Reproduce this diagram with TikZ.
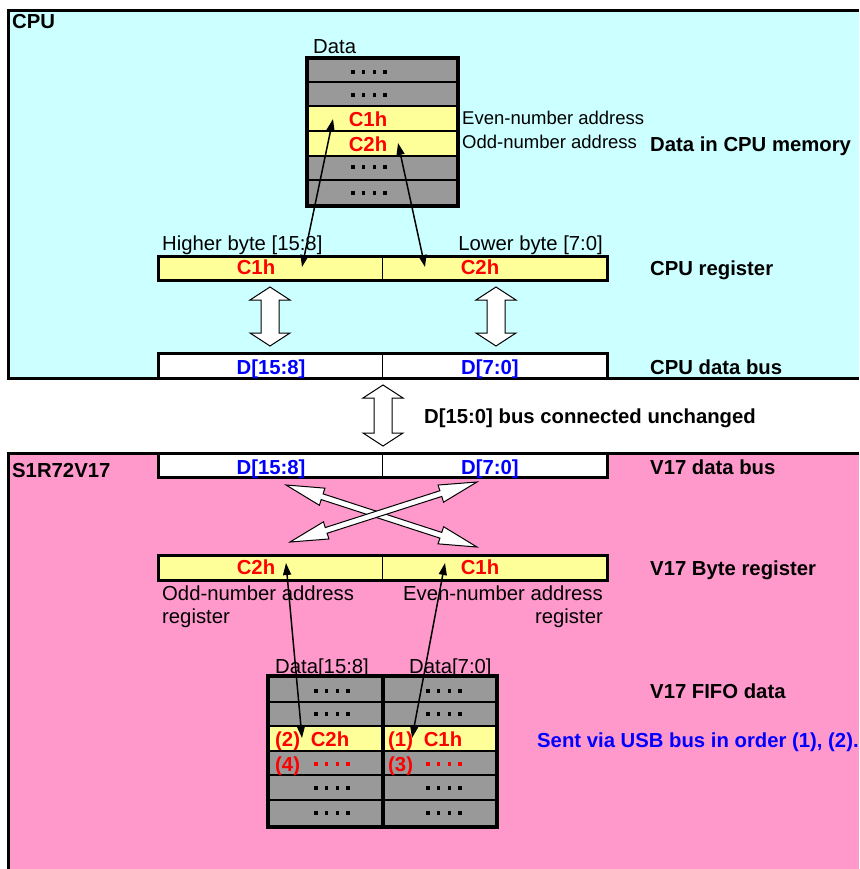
\documentclass[tikz,border=0pt]{standalone}
\usepackage{fontspec}
\setmainfont{Liberation Sans}
\usetikzlibrary{arrows.meta}

\tikzstyle{plain-text}=[inner sep=0pt, font=\fontsize{20.3}{24}\selectfont]
\tikzstyle{small-text}=[inner sep=0pt, font=\fontsize{18.5}{22}\selectfont]
\tikzstyle{bold-text}=[inner sep=0pt, font=\fontsize{20.3}{24}\selectfont\bfseries]
\tikzstyle{red-text}=[bold-text, text=DataRed]
\tikzstyle{blue-text}=[bold-text, text=BusBlue]
\tikzstyle{pointer}=[line width=1.5pt, <->, >={Triangle[length=12pt,width=8pt]}]
\tikzstyle{hollow-arrow}=[draw=black, fill=white, line width=1pt, line join=miter]
\definecolor{CpuCyan}{HTML}{CCFFFF}
\definecolor{ChipPink}{HTML}{FF99CC}
\definecolor{CellGray}{HTML}{999999}
\definecolor{CellYellow}{HTML}{FFFF99}
\definecolor{DataRed}{HTML}{FF0000}
\definecolor{BusBlue}{HTML}{0000FF}

% four dots standing for an unknown byte: centre x, centre y, colour
\newcommand{\dotrun}[3]{%
  \foreach \k in {-1.5,-0.5,0.5,1.5}
    {\fill[#3] ({#1+10.7*\k-1.8},{#2-1.8}) rectangle +(3.6,3.6);}}

% centre, angle, half length, shaft half width, head half width, head length
\newcommand{\hollowarrow}[6]{%
  \draw[hollow-arrow, shift={#1}, rotate=#2] (-#3,0) -- ({-#3+#6},#5) -- ({-#3+#6},#4)
    -- ({#3-#6},#4) -- ({#3-#6},#5) -- (#3,0) -- ({#3-#6},-#5) -- ({#3-#6},-#4)
    -- ({-#3+#6},-#4) -- ({-#3+#6},-#5) -- cycle;}

\begin{document}
\begin{tikzpicture}[x=1pt,y=-1pt]
      \useasboundingbox (0,0) rectangle (859,869);

      % the two areas
      \fill[CpuCyan] (9,11) rectangle (859,378);
      \fill[ChipPink] (9,453) rectangle (859,869);
      \draw[line width=3pt] (859,10.5) -- (8.5,10.5) -- (8.5,378) -- (859,378);
      \draw[line width=3pt] (859,453) -- (8.5,453) -- (8.5,869);
      \node (title-cpu) at (12,29) [bold-text, anchor=base west] {CPU};
      \node (title-chip) at (12,477) [bold-text, anchor=base west] {S1R72V17};

      % data in CPU memory
      \foreach \row/\col in {0/CellGray,1/CellGray,2/CellYellow,3/CellYellow,4/CellGray,5/CellGray}
        {\fill[\col] (307,{58+24.7*\row}) rectangle (458,{58+24.7*(\row+1)});}
      \foreach \y in {82,106,131,156,180}
        {\draw[line width=2.5pt] (307,\y) -- (458,\y);}
      \draw[line width=3.5pt] (307,58) rectangle (458,206);
      \foreach \y in {72,95,167,193}
        {\dotrun{369}{\y}{black}}
      \node (mem-title) at (313,54) [plain-text, anchor=base west] {Data};
      \node (mem-c1) at (368,127) [red-text, anchor=base] {C1h};
      \node (mem-c2) at (368,152) [red-text, anchor=base] {C2h};
      \node (mem-even) at (462,125) [small-text, anchor=base west] {Even-number address};
      \node (mem-odd) at (462,149) [small-text, anchor=base west] {Odd-number address};

      % the four bars
      \foreach \top/\bot/\col in {256/280/CellYellow, 353/378/white, 453/477/white, 555/580/CellYellow} {
        \fill[\col] (158,\top) rectangle (607,\bot);
        \draw[line width=3pt] (158,\top) rectangle (607,\bot);
        \draw[line width=1pt] (382,\top) -- (382,\bot);
      }
      \node (reg-high) at (256,274) [red-text, anchor=base] {C1h};
      \node (reg-low) at (480,274) [red-text, anchor=base] {C2h};
      \node (reg-hlabel) at (162,250) [plain-text, anchor=base west] {Higher byte [15:8]};
      \node (reg-llabel) at (603,250) [plain-text, anchor=base east] {Lower byte [7:0]};
      \node (cbus-high) at (271,374) [blue-text, anchor=base] {D[15:8]};
      \node (cbus-low) at (490,374) [blue-text, anchor=base] {D[7:0]};
      \node (vbus-high) at (271,474) [blue-text, anchor=base] {D[15:8]};
      \node (vbus-low) at (490,474) [blue-text, anchor=base] {D[7:0]};
      \node (byte-high) at (256,574) [red-text, anchor=base] {C2h};
      \node (byte-low) at (480,574) [red-text, anchor=base] {C1h};
      \node (byte-odd) at (162,600) [plain-text, anchor=base west] {Odd-number address};
      \node (byte-odd2) at (162,623) [plain-text, anchor=base west] {register};
      \node (byte-even) at (603,600) [plain-text, anchor=base east] {Even-number address};
      \node (byte-even2) at (603,623) [plain-text, anchor=base east] {register};

      % V17 FIFO
      \foreach \row/\col in {0/CellGray,1/CellGray,2/CellYellow,3/CellGray,4/CellGray,5/CellGray}
        {\fill[\col] (268,{676+25.2*\row}) rectangle (497,{676+25.2*(\row+1)});}
      \foreach \y in {702,726,751,775,800}
        {\draw[line width=2.5pt] (268,\y) -- (497,\y);}
      \draw[line width=3.5pt] (383,676) -- (383,827);
      \draw[line width=3.5pt] (268,676) rectangle (497,827);
      \foreach \x in {332,444} {
        \foreach \y in {691,714,788,813}
          {\dotrun{\x}{\y}{black}}
        \dotrun{\x}{764}{DataRed}
      }
      \node (fifo-hlabel) at (275,673) [plain-text, anchor=base west] {Data[15:8]};
      \node (fifo-llabel) at (409,673) [plain-text, anchor=base west] {Data[7:0]};
      \node (fifo-n2) at (275,746) [red-text, anchor=base west] {(2)};
      \node (fifo-c2) at (330,746) [red-text, anchor=base] {C2h};
      \node (fifo-n1) at (388,746) [red-text, anchor=base west] {(1)};
      \node (fifo-c1) at (443,746) [red-text, anchor=base] {C1h};
      \node (fifo-n4) at (275,771) [red-text, anchor=base west] {(4)};
      \node (fifo-n3) at (388,771) [red-text, anchor=base west] {(3)};

      % bus arrows
      \hollowarrow{(270,316.5)}{90}{29.5}{9}{20}{13}
      \hollowarrow{(496,316.5)}{90}{29.5}{9}{20}{13}
      \hollowarrow{(383,415.5)}{90}{30.5}{9}{20}{13}
      \hollowarrow{(381.5,516)}{-18}{100.4}{3}{9}{38}
      \hollowarrow{(383.5,512)}{17.8}{98.2}{3}{9}{38}

      % byte pointers
      \coordinate (tip-reg-c1) at (302,267);
      \coordinate (tip-mem-c1) at (333,119);
      \coordinate (tip-reg-c2) at (425,267);
      \coordinate (tip-mem-c2) at (398,143);
      \coordinate (tip-byte-c2) at (286,563);
      \coordinate (tip-fifo-c2) at (302,738);
      \coordinate (tip-byte-c1) at (445,563);
      \coordinate (tip-fifo-c1) at (412,738);
      \draw[pointer] (tip-reg-c1) -- (tip-mem-c1);
      \draw[pointer] (tip-reg-c2) -- (tip-mem-c2);
      \draw[pointer] (tip-byte-c2) -- (tip-fifo-c2);
      \draw[pointer] (tip-byte-c1) -- (tip-fifo-c1);

      % right hand labels
      \node (side-mem) at (650,152) [bold-text, anchor=base west] {Data in CPU memory};
      \node (side-reg) at (650,275) [bold-text, anchor=base west] {CPU register};
      \node (side-cbus) at (650,374) [bold-text, anchor=base west] {CPU data bus};
      \node (side-link) at (424,423) [bold-text, anchor=base west] {D[15:0] bus connected unchanged};
      \node (side-vbus) at (650,474) [bold-text, anchor=base west] {V17 data bus};
      \node (side-byte) at (650,575) [bold-text, anchor=base west] {V17 Byte register};
      \node (side-fifo) at (650,698) [bold-text, anchor=base west] {V17 FIFO data};
      \node (side-usb) at (537,747) [blue-text, anchor=base west] {Sent via USB bus in order (1), (2).};
    \end{tikzpicture}
\end{document}
